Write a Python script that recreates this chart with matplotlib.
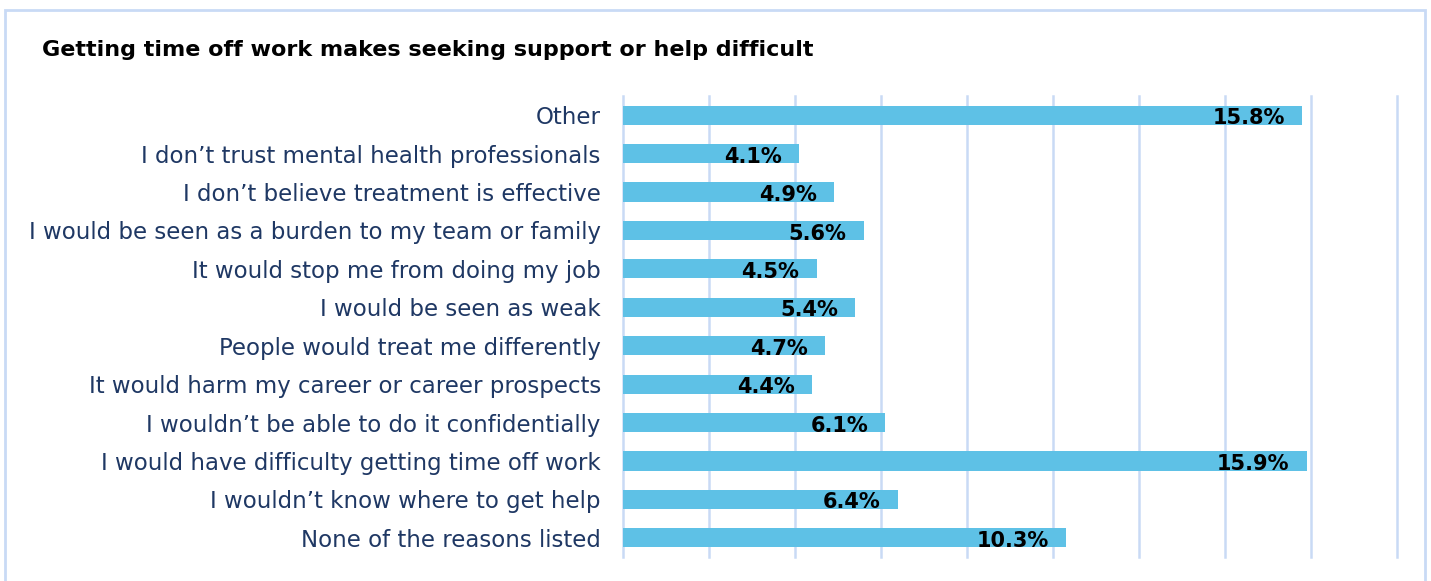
import matplotlib.pyplot as plt
from matplotlib.patches import Rectangle

# data, top to bottom as in the chart
reasons = ['Other',
           'I don\u2019t trust mental health professionals',
           'I don\u2019t believe treatment is effective',
           'I would be seen as a burden to my team or family',
           'It would stop me from doing my job',
           'I would be seen as weak',
           'People would treat me differently',
           'It would harm my career or career prospects',
           'I wouldn\u2019t be able to do it confidentially',
           'I would have difficulty getting time off work',
           'I wouldn\u2019t know where to get help',
           'None of the reasons listed']
percent = [15.8, 4.1, 4.9, 5.6, 4.5, 5.4, 4.7, 4.4, 6.1, 15.9, 6.4, 10.3]

bar_color = '#5EC1E6'
grid_color = '#C9DAF5'
label_color = '#1F3864'

fig = plt.figure(figsize=(14.31, 5.81), dpi=100)
W, H = 1431, 581
# axes placed in pixel coords
ax = fig.add_axes([623 / W, 1 - 557 / H, (1397 - 623) / W, (557 - 96) / H])

ypos = list(range(len(reasons)))
ax.barh(ypos, percent, height=0.5, color=bar_color, zorder=2)
ax.set_xlim(0, 18)
ax.set_ylim(len(reasons) - 0.5, -0.5)
ax.set_xticks(range(0, 19, 2))
ax.xaxis.grid(True, color=grid_color, linewidth=1.8, zorder=0)
for gl in ax.get_xgridlines():
    gl.set_clip_on(False)
ax.tick_params(axis='x', length=0, labelbottom=False)
ax.tick_params(axis='y', length=0, pad=16)
ax.set_yticks(ypos)
ax.set_yticklabels(reasons, fontsize=16.5, color=label_color)
for s in ax.spines.values():
    s.set_visible(False)

for y, v in zip(ypos, percent):
    ax.text(v - 0.4, y + 0.08, f'{v}%', ha='right', va='center',
            fontsize=15, fontweight='bold', color='black', zorder=3)

fig.text(42 / W, 1 - 50 / H, 'Getting time off work makes seeking support or help difficult',
         fontsize=16, fontweight='bold', ha='left', va='center')

# outer border of the chart box
fig.patches.append(Rectangle((5 / W, -0.05), (1425 - 5) / W, 1.05 - 10 / H,
                             transform=fig.transFigure, fill=False,
                             edgecolor=grid_color, linewidth=2))

fig.savefig('out.png', dpi=100)
